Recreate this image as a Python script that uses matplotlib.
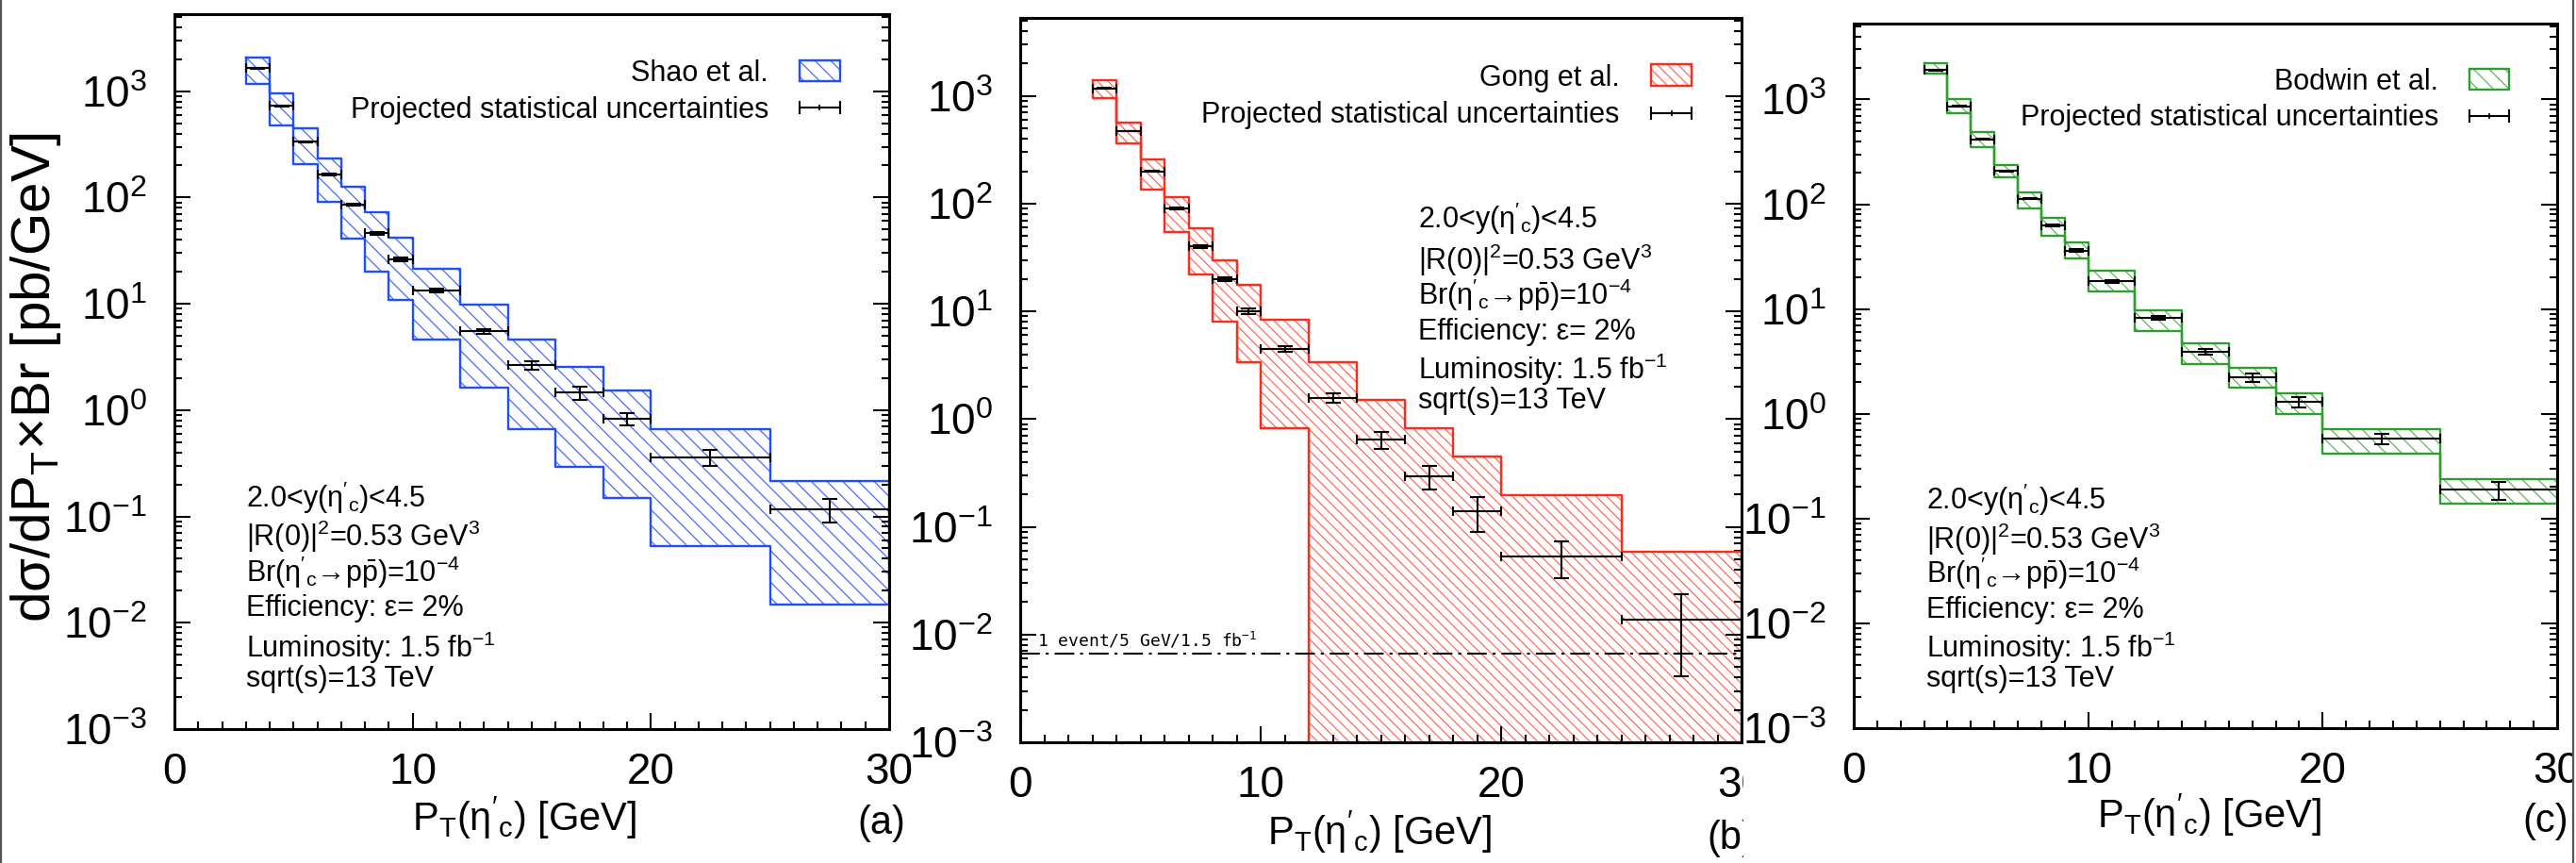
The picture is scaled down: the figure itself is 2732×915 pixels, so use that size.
import numpy as np
import matplotlib
matplotlib.use("Agg")
import matplotlib.pyplot as plt
from matplotlib.patches import Rectangle
from matplotlib.lines import Line2D
from matplotlib.ticker import LogLocator, MultipleLocator, NullFormatter

plt.rcParams['font.family'] = ['Liberation Sans', 'DejaVu Sans']
plt.rcParams['mathtext.fontset'] = 'custom'
plt.rcParams['mathtext.rm'] = 'Liberation Sans'
plt.rcParams['mathtext.it'] = 'Liberation Sans:italic'
plt.rcParams['mathtext.bf'] = 'Liberation Sans:bold'
plt.rcParams['mathtext.default'] = 'regular'
plt.rcParams['hatch.linewidth'] = 0.9
plt.rcParams['axes.unicode_minus'] = False

# pT bin edges [GeV]
pt_edges = [3, 4, 5, 6, 7, 8, 9, 10, 12, 14, 16, 18, 20, 25, 30]

# Shao et al. theory band and projected measurement
shao_upper = [2090, 960, 451, 233, 126, 73, 41.7, 21.2, 9.8, 4.63, 2.55, 1.53, 0.66, 0.216]
shao_lower = [1180, 476, 207, 91.6, 41.4, 20, 10.9, 4.57, 1.63, 0.66, 0.294, 0.149, 0.053, 0.0147]
shao_central = [1640, 727, 334, 164, 85, 46, 26.3, 13.3, 5.5, 2.65, 1.46, 0.83, 0.36, 0.117]
shao_relerr = [0.005, 0.007, 0.01, 0.014, 0.02, 0.027, 0.036, 0.035, 0.055, 0.09, 0.14, 0.14, 0.17, 0.25]

# Gong et al. theory band (lower edge reaches zero above 12 GeV)
gong_upper = [1415, 565, 258, 115.6, 59, 30, 17.6, 8.4, 3.4, 1.5, 0.82, 0.45, 0.195, 0.059]
gong_lower = [954, 361, 136, 54, 21.9, 8.1, 3.36, 0.82, 0, 0, 0, 0, 0, 0]
gong_central = [1180, 472, 200, 89.6, 40, 19.8, 10.1, 4.5, 1.58, 0.65, 0.294, 0.139, 0.0533, 0.0138]
gong_relerr = [0.005, 0.008, 0.013, 0.019, 0.029, 0.041, 0.057, 0.061, 0.10, 0.18, 0.25, 0.35, 0.37, 0.70]

# Bodwin et al. theory band
bodwin_upper = [2235, 1006, 486, 235, 129, 74, 43, 23.1, 9.7, 4.68, 2.73, 1.57, 0.72, 0.236]
bodwin_lower = [1753, 737, 351, 181, 92, 50.5, 30.5, 14.7, 6.17, 2.99, 1.76, 0.99, 0.42, 0.14]
bodwin_central = [1900, 864, 418, 207, 113, 63, 36.2, 18.4, 8.2, 3.89, 2.22, 1.30, 0.575, 0.188]
bodwin_relerr = [0.004, 0.006, 0.009, 0.013, 0.017, 0.023, 0.03, 0.03, 0.045, 0.065, 0.087, 0.11, 0.11, 0.2]

# one event per 5 GeV bin with 1.5 fb^-1
one_event_level = 1 / 150

info_lines = [r"2.0<y($\eta'_c$)<4.5",
              r"$|R(0)|^2$=0.53 GeV$^3$",
              r"Br($\eta'_c$→p$\bar{p}$)=10$^{-4}$",
              "Efficiency: ε= 2%",
              r"Luminosity: 1.5 fb$^{-1}$",
              "sqrt(s)=13 TeV"]

W, H = 2732, 915
fig = plt.figure(figsize=(W / 100, H / 100), dpi=100)
fig.patch.set_facecolor('white')


def add_axes_px(left, right, top, bottom, z):
    ax = fig.add_axes([left / W, 1 - bottom / H, (right - left) / W, (bottom - top) / H])
    ax.set_zorder(z)
    return ax


def draw_panel(ax, upper, lower, central, relerr, color, hcolor, hatch):
    edges = np.array(pt_edges, float)
    up = np.array(upper, float)
    lo = np.array(lower, float)
    lo = np.where(lo > 0, lo, 1e-7)
    xs = np.repeat(edges, 2)[1:-1]
    ups = np.repeat(up, 2)
    los = np.repeat(lo, 2)
    px = np.concatenate([xs, xs[::-1]])
    py = np.concatenate([ups, los[::-1]])
    ax.fill(px, py, facecolor='none', edgecolor=hcolor, hatch=hatch, linewidth=0, zorder=1)
    ax.plot(np.append(px, px[0]), np.append(py, py[0]), color=color, lw=1.7, zorder=2)

    centers = (edges[:-1] + edges[1:]) / 2
    half = np.diff(edges) / 2
    c = np.array(central, float)
    yerr = c * np.array(relerr, float)
    ax.errorbar(centers, c, yerr=yerr, fmt='none', ecolor='black', elinewidth=1.5,
                capsize=6, capthick=1.5, zorder=3)
    ax.errorbar(centers, c, xerr=half, fmt='none', ecolor='black', elinewidth=1.5,
                capsize=3.5, capthick=1.5, zorder=3)


def style_axes(ax):
    ax.set_yscale('log')
    ax.set_xlim(0, 30)
    ax.set_ylim(1e-3, 5.3e3)
    ax.xaxis.set_major_locator(MultipleLocator(10))
    ax.xaxis.set_minor_locator(MultipleLocator(1))
    ax.yaxis.set_major_locator(LogLocator(base=10, numticks=20))
    ax.yaxis.set_minor_locator(LogLocator(base=10, subs=np.arange(2, 10), numticks=20))
    ax.yaxis.set_minor_formatter(NullFormatter())
    ax.tick_params(which='both', direction='in', top=False, right=True, width=1.5, colors='black')
    ax.tick_params(which='major', length=12, labelsize=33)
    ax.tick_params(which='minor', length=5.5)
    ax.tick_params(axis='x', pad=17)
    ax.tick_params(axis='y', pad=21)
    for s in ax.spines.values():
        s.set_linewidth(2.2)


def legend(ax, name, color, hcolor, hatch):
    ax.text(0.831, 0.906, name, ha='right', va='baseline', fontsize=22, transform=ax.transAxes)
    ax.add_patch(Rectangle((0.875, 0.906), 0.056, 0.030, transform=ax.transAxes,
                           facecolor='none', edgecolor=hcolor, hatch=hatch, lw=0))
    ax.add_patch(Rectangle((0.875, 0.906), 0.056, 0.030, transform=ax.transAxes,
                           facecolor='none', edgecolor=color, lw=1.7))
    ax.text(0.831, 0.855, "Projected statistical uncertainties", ha='right', va='baseline',
            fontsize=22, transform=ax.transAxes)
    y = 0.869
    ax.add_line(Line2D([0.875, 0.931], [y, y], transform=ax.transAxes, color='black', lw=1.5))
    ax.add_line(Line2D([0.875, 0.931], [y, y], transform=ax.transAxes, color='black', lw=0,
                       marker='|', markersize=10, markeredgewidth=1.5))
    ax.add_line(Line2D([0.903], [y], transform=ax.transAxes, color='black', lw=0,
                       marker='|', markersize=5, markeredgewidth=1.2))


def info(ax, x, baselines):
    for line, yb in zip(info_lines, baselines):
        ax.text(x, yb, line, ha='left', va='baseline', fontsize=22, transform=ax.transAxes)


def xlabel(ax, xc, tag, xtag):
    ax.text(xc, -0.142, r"$P_T(\eta'_c)$ [GeV]", ha='center', va='baseline', fontsize=30,
            transform=ax.transAxes)
    ax.text(xtag, -0.147, tag, ha='center', va='baseline', fontsize=30, transform=ax.transAxes)


# (a) Shao et al.
ax_a = add_axes_px(185, 943, 15, 773, 0)
style_axes(ax_a)
draw_panel(ax_a, shao_upper, shao_lower, shao_central, shao_relerr,
           '#1f4dff', '#4a6dff', '\\\\')
legend(ax_a, "Shao et al.", '#1f4dff', '#4a6dff', '\\\\')
info(ax_a, 0.100, [0.310, 0.256, 0.206, 0.158, 0.100, 0.059])
xlabel(ax_a, 0.49, "(a)", 0.989)
ax_a.text(-0.194, 0.492, r"d$\sigma$/dP$_T$$\times$Br [pb/GeV]", rotation=90, ha='center',
          va='center', fontsize=42, transform=ax_a.transAxes)

# (b) Gong et al.
ax_b = add_axes_px(1082, 1847, 19, 787, 0)
style_axes(ax_b)
draw_panel(ax_b, gong_upper, gong_lower, gong_central, gong_relerr,
           '#ff2a1a', '#ff6a5e', '\\\\\\')
legend(ax_b, "Gong et al.", '#ff2a1a', '#ff6a5e', '\\\\\\')
info(ax_b, 0.552, [0.710, 0.652, 0.604, 0.556, 0.501, 0.461])
xlabel(ax_b, 0.498, "(b)", 0.985)
ax_b.axhline(one_event_level, color='black', lw=1.5, dashes=(10, 3, 1.5, 3), zorder=4)
ax_b.text(0.7, 0.0078, r"1 event/5 GeV/1.5 fb$^{-1}$", fontsize=13, family='DejaVu Sans Mono',
          ha='left', va='baseline')

# panel (c) is laid over the right edge of panel (b)
fig.add_artist(Rectangle((1849 / W, 0), 1 - 1849 / W, 1, transform=fig.transFigure,
                         facecolor='white', edgecolor='none', zorder=1))

# (c) Bodwin et al.
ax_c = add_axes_px(1966, 2712, 25, 772, 2)
style_axes(ax_c)
draw_panel(ax_c, bodwin_upper, bodwin_lower, bodwin_central, bodwin_relerr,
           '#2e9e2e', '#5fb85f', '\\\\')
legend(ax_c, "Bodwin et al.", '#2e9e2e', '#5fb85f', '\\\\')
info(ax_c, 0.103, [0.311, 0.255, 0.206, 0.157, 0.101, 0.059])
xlabel(ax_c, 0.506, "(c)", 0.984)

# outer frame edges
fig.add_artist(Rectangle((2729 / W, 0), 3 / W, 1, transform=fig.transFigure,
                         facecolor='white', edgecolor='none', zorder=5))
for xe in (1.2, 2728.8):
    fig.add_artist(Line2D([xe / W, xe / W], [0, 1], transform=fig.transFigure,
                          color='#555555', lw=1.6, zorder=6))

fig.savefig("out.png", dpi=100, facecolor='white')
